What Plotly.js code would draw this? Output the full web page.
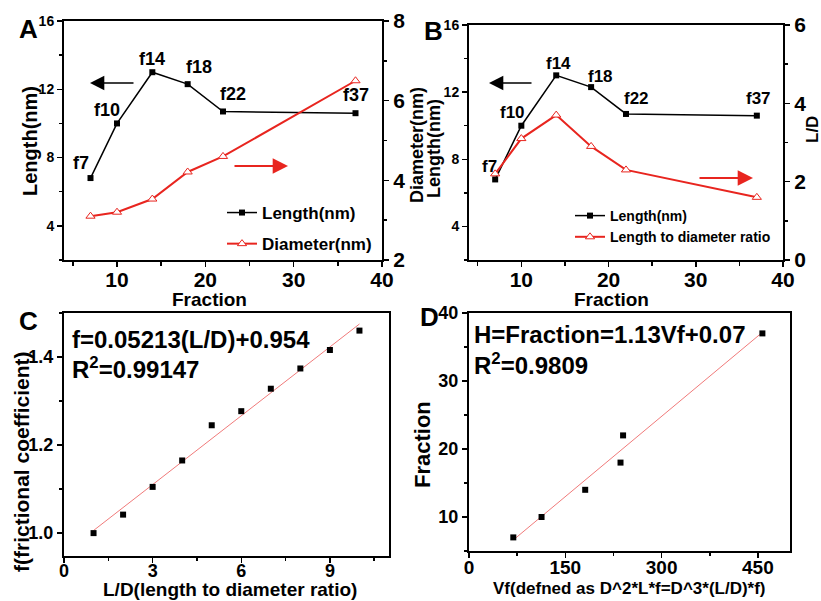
<!DOCTYPE html>
<html><head><meta charset="utf-8">
<script src="https://cdn.plot.ly/plotly-3.0.1.min.js"></script>
<style>html,body{margin:0;padding:0;background:#fff}#chart{width:821px;height:601px}</style>
</head><body><div id="chart"></div>
<script>
// ---- data ----
const fractions = [7, 10, 14, 18, 22, 37];
const fractionLabels = ['f7', 'f10', 'f14', 'f18', 'f22', 'f37'];
const lengthNm = [6.8, 10.0, 13.0, 12.3, 10.7, 10.6];
const diameterNm = [3.1, 3.2, 3.53, 4.21, 4.6, 6.5];
const ldRatio = [2.2, 3.1, 3.7, 2.9, 2.3, 1.6];
const ldC = [1, 2, 3, 4, 5, 6, 7, 8, 9, 10];
const frictionC = [1.000, 1.042, 1.105, 1.165, 1.245, 1.277, 1.328, 1.374, 1.416, 1.460];
const fitCx = [1, 10];
const fitCy = [1.006, 1.475];
const vfD = [69, 113, 181, 236, 240, 457];
const fractionD = [7, 10, 14, 18, 22, 37];
const fitDx = [70, 455];
const fitDy = [6.7, 37.0];

// ---- helpers ----
const W = 821, H = 601;
const px = v => v / W;
const py = v => 1 - v / H;
const FAM = 'Liberation Sans, Arial, sans-serif';
const bf = (size, color) => ({family: FAM, size: size, weight: 'bold', color: color || '#000'});
const RED = '#e8251f';
const FITRED = '#f07a7a';

const axisBase = {
  showline: true, linecolor: '#000', linewidth: 2,
  ticks: 'outside', ticklen: 5, tickwidth: 1.5, tickcolor: '#000',
  showgrid: false, zeroline: false, fixedrange: true, automargin: false
};
function ax(extra) { return Object.assign({}, JSON.parse(JSON.stringify(axisBase)), extra); }

const traces = [
  // A
  {x: fractions, y: lengthNm, xaxis: 'x', yaxis: 'y', name: 'Length(nm)', mode: 'lines+markers',
   line: {color: '#000', width: 1.5}, marker: {symbol: 'square', size: 6, color: '#000'},
   legend: 'legend', legendgroup: 'a1'},
  {x: fractions, y: diameterNm, xaxis: 'x', yaxis: 'y2', name: 'Diameter(nm)', mode: 'lines+markers',
   line: {color: RED, width: 2}, marker: {symbol: 'triangle-up', size: 8, color: '#fff', line: {color: RED, width: 1}},
   legend: 'legend', legendgroup: 'a2'},
  // B
  {x: fractions, y: lengthNm, xaxis: 'x2', yaxis: 'y3', name: 'Length(nm)', mode: 'lines+markers',
   line: {color: '#000', width: 1.5}, marker: {symbol: 'square', size: 6, color: '#000'},
   legend: 'legend2'},
  {x: fractions, y: ldRatio, xaxis: 'x2', yaxis: 'y4', name: 'Length to diameter ratio', mode: 'lines+markers',
   line: {color: RED, width: 2}, marker: {symbol: 'triangle-up', size: 8, color: '#fff', line: {color: RED, width: 1}},
   legend: 'legend2'},
  // C
  {x: fitCx, y: fitCy, xaxis: 'x3', yaxis: 'y5', mode: 'lines', showlegend: false,
   line: {color: FITRED, width: 1}},
  {x: ldC, y: frictionC, xaxis: 'x3', yaxis: 'y5', mode: 'markers', showlegend: false,
   marker: {symbol: 'square', size: 6, color: '#000'}},
  // D
  {x: fitDx, y: fitDy, xaxis: 'x4', yaxis: 'y6', mode: 'lines', showlegend: false,
   line: {color: FITRED, width: 1}},
  {x: vfD, y: fractionD, xaxis: 'x4', yaxis: 'y6', mode: 'markers', showlegend: false,
   marker: {symbol: 'square', size: 6, color: '#000'}}
];

const annotations = [];
function label(text, x, y, size, angle, anchor) {
  annotations.push({text: text, x: px(x), y: py(y), xref: 'paper', yref: 'paper', showarrow: false,
    xanchor: anchor || 'center', yanchor: 'middle', textangle: angle || 0, font: bf(size)});
}
// panel letters
label('A', 29, 29, 26); label('B', 433, 31, 26); label('C', 28, 321, 26); label('D', 429, 317, 26);
// axis titles
label('Fraction', 209, 299, 19);
label('Fraction', 611, 299, 19);
label('Length(nm)', 30, 141, 20, -90);
label('Diameter(nm)', 417, 145, 18, -90);
label('Length(nm)', 434, 149, 18, -90);
label('L/D', 812, 130, 17, -90);
label('L/D(length to diameter ratio)', 230, 589, 19);
label('f(frictional coefficient)', 21, 462, 21, -90);
label('Vf(defned as D^2*L*f=D^3*(L/D)*f)', 629, 588, 17);
label('Fraction', 422, 445, 22, -90);
// fraction labels
const shiftA = [[-10, 15], [-10, 13], [0, 13], [11, 17], [10, 17], [0, 18]];
const shiftB = [[-6, 13], [-9, 13], [2, 12], [9, 11], [10, 15], [2, 17]];
fractions.forEach((f, i) => {
  annotations.push({text: fractionLabels[i], x: f, y: lengthNm[i], xref: 'x', yref: 'y', showarrow: false,
    xshift: shiftA[i][0], yshift: shiftA[i][1], font: bf(18)});
  annotations.push({text: fractionLabels[i], x: f, y: lengthNm[i], xref: 'x2', yref: 'y3', showarrow: false,
    xshift: shiftB[i][0], yshift: shiftB[i][1], font: bf(17)});
});
// arrows
function arrow(tipX, tipY, tailX, color, w, size) {
  annotations.push({text: '', x: px(tipX), y: py(tipY), xref: 'paper', yref: 'paper',
    ax: tailX - tipX, ay: 0, axref: 'pixel', ayref: 'pixel', showarrow: true,
    arrowhead: 2, arrowsize: size, arrowwidth: w, arrowcolor: color, standoff: 0});
}
arrow(90, 83, 135, '#000', 1.3, 2.2);
arrow(288, 166, 233, RED, 1.8, 1.7);
arrow(489, 83, 533, '#000', 1.3, 2.2);
arrow(753, 178, 698, RED, 1.8, 1.7);
// equations
label('f=0.05213(L/D)+0.954', 70, 339, 24, 0, 'left');
label('R<sup>2</sup>=0.99147', 70, 368, 24, 0, 'left');
label('H=Fraction=1.13Vf+0.07', 472, 335, 24, 0, 'left');
label('R<sup>2</sup>=0.9809', 472, 364, 24, 0, 'left');

const layout = {
  width: W, height: H, margin: {l: 0, r: 0, t: 0, b: 0},
  paper_bgcolor: '#fff', plot_bgcolor: '#fff',
  font: {family: FAM, color: '#000'},
  // A
  xaxis: ax({domain: [px(64), px(382)], anchor: 'y', range: [4, 40], tick0: 0, dtick: 10, mirror: true,
    tickfont: bf(21), ticklabelstandoff: -5,
    minor: {ticks: 'outside', ticklen: 4, dtick: 5, tick0: 0, tickcolor: '#000', tickwidth: 1.5}}),
  yaxis: ax({domain: [py(260), py(21)], anchor: 'x', range: [2, 16], tick0: 0, dtick: 4,
    tickfont: bf(14), minor: {ticks: 'outside', ticklen: 3, dtick: 2, tick0: 0, tickcolor: '#000'}}),
  yaxis2: ax({overlaying: 'y', anchor: 'x', side: 'right', range: [2, 8], tick0: 0, dtick: 2,
    tickfont: bf(21), minor: {ticks: 'outside', ticklen: 3, dtick: 1, tick0: 0, tickcolor: '#000'}}),
  // B
  xaxis2: ax({domain: [px(469), px(783)], anchor: 'y3', range: [4, 40], tick0: 0, dtick: 10, mirror: true,
    tickfont: bf(21), ticklabelstandoff: -5,
    minor: {ticks: 'outside', ticklen: 4, dtick: 5, tick0: 0, tickcolor: '#000', tickwidth: 1.5}}),
  yaxis3: ax({domain: [py(260), py(25)], anchor: 'x2', range: [2, 16], tick0: 0, dtick: 4,
    tickfont: bf(14), minor: {ticks: 'outside', ticklen: 3, dtick: 2, tick0: 0, tickcolor: '#000'}}),
  yaxis4: ax({overlaying: 'y3', anchor: 'x2', side: 'right', range: [0, 6], tick0: 0, dtick: 2,
    tickfont: bf(21), minor: {ticks: 'outside', ticklen: 3, dtick: 1, tick0: 0, tickcolor: '#000'}}),
  // C
  xaxis3: ax({domain: [px(64), px(389)], anchor: 'y5', range: [0, 11], tick0: 0, dtick: 3, mirror: true,
    tickfont: bf(18), ticklabelstandoff: -8,
    minor: {ticks: 'outside', ticklen: 3, dtick: 1.5, tick0: 0, tickcolor: '#000'}}),
  yaxis5: ax({domain: [py(556), py(313)], anchor: 'x3', range: [0.948, 1.5], tick0: 0, dtick: 0.2, mirror: true,
    tickformat: '.1f', tickfont: bf(18), minor: {ticks: 'outside', ticklen: 3, dtick: 0.1, tick0: 0, tickcolor: '#000'}}),
  // D
  xaxis4: ax({domain: [px(469), px(790)], anchor: 'y6', range: [0, 500], tick0: 0, dtick: 150, mirror: true,
    tickfont: bf(19), ticklabelstandoff: -7,
    minor: {ticks: 'outside', ticklen: 3, dtick: 75, tick0: 0, tickcolor: '#000'}}),
  yaxis6: ax({domain: [py(551), py(313)], anchor: 'x4', range: [5, 40], tick0: 0, dtick: 10, mirror: true,
    tickfont: bf(18), minor: {ticks: 'outside', ticklen: 3, dtick: 5, tick0: 0, tickcolor: '#000'}}),
  legend: {x: px(222), y: py(195), xanchor: 'left', yanchor: 'top', bgcolor: 'rgba(0,0,0,0)',
    font: bf(17), tracegroupgap: 6, itemwidth: 30},
  legend2: {x: px(570), y: py(200), xanchor: 'left', yanchor: 'top', bgcolor: 'rgba(0,0,0,0)',
    font: bf(14), tracegroupgap: 0, itemwidth: 30},
  annotations: annotations
};

Plotly.newPlot('chart', traces, layout, {staticPlot: true, displayModeBar: false});
</script></body></html>
